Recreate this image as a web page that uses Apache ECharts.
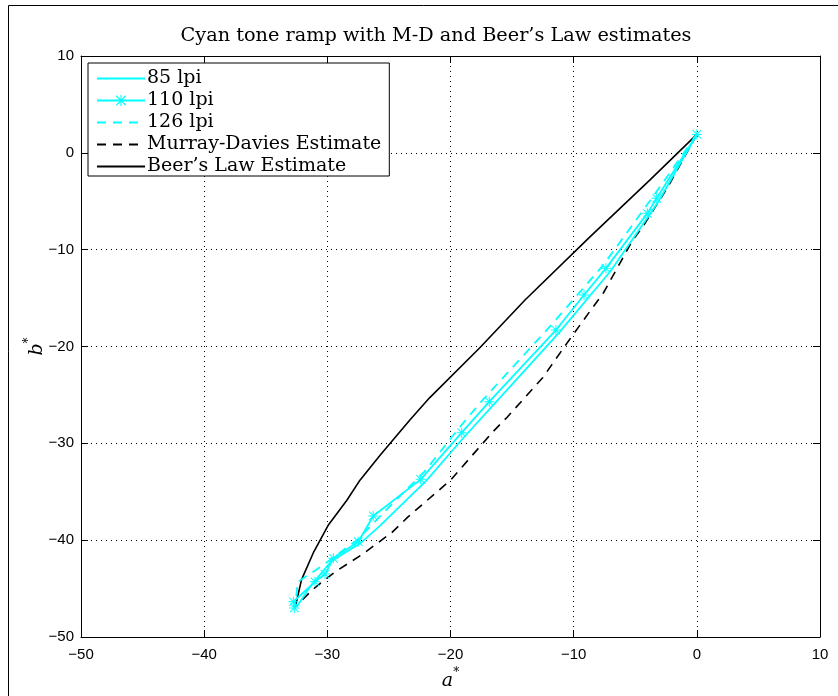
<!DOCTYPE html>
<html><head><meta charset="utf-8">
<script src="https://cdn.jsdelivr.net/npm/echarts@6/dist/echarts.min.js"></script>
<style>html,body{margin:0;padding:0;background:#fff}#c{width:838px;height:696px}</style>
</head><body><div id="c"></div>
<script>
// axis ticks
const xTicks = [-50, -40, -30, -20, -10, 0, 10];
const yTicks = [-50, -40, -30, -20, -10, 0, 10];
const seriesNames = ['85 lpi', '110 lpi', '126 lpi', 'Murray-Davies Estimate', 'Beer\u2019s Law Estimate'];

// [a*, b*] pairs
const lpi85 = [[0,1.9],[-3.2,-5.2],[-7.0,-12.2],[-11.2,-18.6],[-16.5,-26.0],[-19.0,-29.5],[-22.0,-33.9],[-25.8,-38.6],[-27.3,-40.3],[-29.7,-42.2],[-31.4,-44.8],[-32.5,-46.9]];
const lpi110 = [[0,1.9],[-3.26,-4.7],[-4.02,-6.25],[-7.38,-11.93],[-9.16,-14.68],[-11.44,-18.3],[-16.85,-25.7],[-19.09,-28.9],[-22.42,-33.72],[-26.27,-37.5],[-27.49,-40.16],[-29.51,-41.88],[-30.19,-43.5],[-31.0,-44.3],[-32.76,-46.36],[-32.68,-47.0]];
const lpi126 = [[0,1.9],[-3.6,-4.6],[-7.6,-11.6],[-11.9,-17.9],[-17.3,-25.4],[-19.3,-28.4],[-22.1,-32.9],[-25.0,-36.6],[-26.3,-38.3],[-27.6,-40.0],[-30.6,-42.8],[-32.4,-44.3],[-32.6,-46.8]];
const murrayDavies = [[0,1.9],[-2.34,-3.5],[-4.37,-7.6],[-5.2,-9.0],[-7.6,-14.5],[-8.7,-16.4],[-10.46,-19.5],[-12.5,-23.2],[-15.4,-27.3],[-16.55,-28.8],[-20.0,-33.8],[-23.45,-37.6],[-24.75,-39.2],[-27.2,-41.5],[-29.4,-43.3],[-31.2,-45.1],[-32.6,-46.9]];
const beersLaw = [[0,1.9],[-3.8,-2.8],[-8.7,-8.7],[-13.95,-15.2],[-17.6,-20.1],[-21.7,-25.3],[-23.3,-27.6],[-25.7,-31.2],[-27.35,-33.8],[-28.4,-35.85],[-29.9,-38.4],[-31.1,-41.2],[-32.1,-44.1],[-32.6,-46.9]];

const star = 'path://M9 0H11V20H9Z M0 9H20V11H0Z M2.2 0.8L19.2 17.8L17.8 19.2L0.8 2.2Z M17.8 0.8L19.2 2.2L2.2 19.2L0.8 17.8Z';
const fmt = v => String(v).replace('-', '\u2212');
const CYAN = '#00ffff';
const serif = 'DejaVu Serif';
const NOFILL = 'rgba(0,0,0,0)';

const chart = echarts.init(document.getElementById('c'), null, {renderer: 'canvas'});

function axisBase(pos, ticks, labels) {
  return {
    type: 'value', position: pos,
    min: ticks[0], max: ticks[ticks.length - 1], interval: ticks[1] - ticks[0],
    axisLine: {show: true, onZero: false, lineStyle: {color: '#000', width: 1}},
    axisTick: {show: true, inside: true, length: 7, lineStyle: {color: '#000', width: 1}},
    axisLabel: {show: labels, color: '#000', fontFamily: 'Liberation Sans', fontSize: 15, formatter: fmt},
    splitLine: {show: false}
  };
}

const nameRich = {
  i: {fontFamily: serif, fontStyle: 'italic', fontSize: 19, color: '#000', lineHeight: 24, verticalAlign: 'bottom'},
  s: {fontFamily: serif, fontSize: 12, color: '#000', verticalAlign: 'top', lineHeight: 24}
};

const xMain = axisBase('bottom', xTicks, true);
xMain.axisLabel.margin = 10;
xMain.splitLine = {show: true, lineStyle: {color: '#000', width: 1, type: [1, 4]}};
xMain.name = '{i|a}{s|*}';
xMain.nameLocation = 'middle';
xMain.nameGap = 30;
xMain.nameTextStyle = {rich: nameRich};

const yMain = axisBase('left', yTicks, true);
yMain.axisLabel.margin = 7;
yMain.splitLine = {show: true, lineStyle: {color: '#000', width: 1, type: [1, 4]}};
yMain.name = '{i|b}{s|*}';
yMain.nameLocation = 'middle';
yMain.nameGap = 34;
yMain.nameMoveOverlap = false;
yMain.nameTextStyle = {rich: nameRich};

const lineSeries = (name, data, opts) => Object.assign({
  name, type: 'line', data, xAxisIndex: 0, yAxisIndex: 0,
  symbol: 'none', showSymbol: false, smooth: false, animation: false,
  lineStyle: {color: CYAN, width: 1.8},
  itemStyle: {color: NOFILL, opacity: 0}, z: 3
}, opts);

chart.setOption({
  animation: false,
  backgroundColor: '#fff',
  title: {
    text: 'Cyan tone ramp with M-D and Beer\u2019s Law estimates',
    left: 431, top: 21, textAlign: 'center',
    textStyle: {fontFamily: serif, fontSize: 19.3, fontWeight: 'normal', color: '#000'}
  },
  grid: {left: 81, top: 56, width: 739, height: 581, containLabel: false},
  xAxis: [xMain, axisBase('top', xTicks, false)],
  yAxis: [yMain, axisBase('right', yTicks, false)],
  legend: {
    orient: 'vertical', left: 88, top: 63,
    itemWidth: 48, itemHeight: 14, itemGap: 3,
    padding: [6, 8, 0, 8],
    borderColor: '#000', borderWidth: 1, backgroundColor: '#fff',
    textStyle: {fontFamily: serif, fontSize: 19, lineHeight: 18, color: '#000', padding: [0, 0, 0, -3]},
    data: seriesNames
  },
  graphic: [{
    type: 'rect', silent: true, z: -10,
    shape: {x: 8.5, y: 5.5, width: 1000, height: 1000},
    style: {fill: 'none', stroke: '#000', lineWidth: 1}
  }],
  series: [
    lineSeries(seriesNames[0], lpi85, {}),
    lineSeries(seriesNames[1], lpi110, {symbol: star, showSymbol: true, symbolSize: 10, itemStyle: {color: CYAN}}),
    lineSeries(seriesNames[2], lpi126, {lineStyle: {color: CYAN, width: 1.8, type: [9, 7]}}),
    lineSeries(seriesNames[3], murrayDavies, {lineStyle: {color: '#000', width: 1.6, type: [9, 7]}, z: 2}),
    lineSeries(seriesNames[4], beersLaw, {lineStyle: {color: '#000', width: 1.6}, z: 2})
  ]
});
</script>
</body></html>
